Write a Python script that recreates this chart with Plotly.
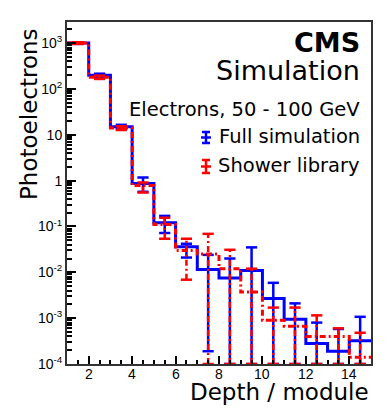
import plotly.graph_objects as go

# bin edges (depth / module) and bin contents
edges = [1, 2, 3, 4, 5, 6, 7, 8, 9, 10, 11, 12, 13, 14, 15]
centers = [1.5, 2.5, 3.5, 4.5, 5.5, 6.5, 7.5, 8.5, 9.5, 10.5, 11.5, 12.5, 13.5, 14.5]

full_val = [1000, 200, 15, 0.87, 0.12, 0.036, 0.0115, 0.0075, 0.011, 0.0027, 0.00095, 0.00028, 0.00019, 0.00032]
full_hi = [1040, 215, 16.5, 1.17, 0.17, 0.042, 0.024, 0.020, 0.035, 0.0059, 0.0021, 0.0008, 0.00058, 0.00107]
full_lo = [960, 185, 13.5, 0.57, 0.072, 0.021, 0.00019, 0, 0, 0, 0, 0, 0, 0]

shower_val = [1000, 180, 14, 0.78, 0.11, 0.03, 0.025, 0.012, 0.0037, 0.0009, 0.00067, 0.0004, 0.0004, 0.00014]
shower_hi = [1040, 195, 15.3, 0.91, 0.155, 0.054, 0.069, 0.031, 0.012, 0.0017, 0.0017, 0.00115, 0.0006, 0.00048]
shower_lo = [960, 165, 12.7, 0.55, 0.054, 0.0069, 0, 0, 0, 0, 0, 0, 0, 0]

xtick_vals = [2, 4, 6, 8, 10, 12, 14]
ytick_vals = [1e-4, 1e-3, 1e-2, 1e-1, 1, 10, 100, 1000]
ytick_text = ["10<sup>-4</sup>", "10<sup>-3</sup>", "10<sup>-2</sup>", "10<sup>-1</sup>",
              "1", "10", "10<sup>2</sup>", "10<sup>3</sup>"]

W, H = 391, 409
L, R, T, B = 67, 20, 22, 45
FLOOR = 1e-4  # bottom of the log axis, zero-content errors end here


def px(x):
    return (x - L) / (W - L - R)


def py(y):
    return (H - B - y) / (H - T - B)


def err_lines(val, lo, hi):
    xs, ys = [], []
    for c, l, h in zip(centers, lo, hi):
        xs += [c, c, None]
        ys += [max(l, FLOOR), h, None]
    return xs, ys


fig = go.Figure()

for name, val, lo, hi, color, dash in [
        ("Full simulation", full_val, full_lo, full_hi, "#0000ff", "solid"),
        ("Shower library", shower_val, shower_lo, shower_hi, "#ff0000", "6px,3px,2px,3px")]:
    fig.add_trace(go.Scatter(x=edges, y=val + [val[-1]], mode="lines", line_shape="hv",
                             line=dict(color=color, width=3, dash=dash), showlegend=False))
    ex, ey = err_lines(val, lo, hi)
    fig.add_trace(go.Scatter(x=ex, y=ey, mode="lines",
                             line=dict(color=color, width=2.5, dash=dash), showlegend=False))
    fig.add_trace(go.Scatter(x=centers + centers, y=[max(v, FLOOR) for v in lo] + hi, mode="markers",
                             marker=dict(symbol="line-ew", size=8, line=dict(color=color, width=2.5)),
                             showlegend=False))

fig.update_layout(
    width=W, height=H,
    margin=dict(l=L, r=R, t=T, b=B),
    paper_bgcolor="white", plot_bgcolor="white",
    font=dict(family="Liberation Sans, Arial", color="black", size=14),
    showlegend=False,
)
fig.update_xaxes(range=[1, 15], tickvals=xtick_vals, showticklabels=False, ticks="inside", ticklen=8,
                 tickwidth=1.5, tickcolor="black", showgrid=False, zeroline=False,
                 showline=True, linecolor="#333", linewidth=2, mirror=True,
                 minor=dict(dtick=0.5, ticks="inside", ticklen=4, tickcolor="black", showgrid=False))
minor_vals = [k * 10 ** e for e in range(-4, 4) for k in range(2, 10)]
fig.update_yaxes(type="log", range=[-4, 3.46], tickmode="array", tickvals=ytick_vals,
                 ticktext=ytick_text, ticks="inside", ticklen=9, tickwidth=1.5, tickcolor="black",
                 showgrid=False, zeroline=False, showline=True, linecolor="#333", linewidth=2,
                 mirror=True,
                 minor=dict(tickmode="array", tickvals=minor_vals, ticks="inside", ticklen=5,
                            tickcolor="black", showgrid=False),
                 tickfont=dict(size=14))

# x tick labels sit tight under the axis, as in the original
for v in xtick_vals:
    fig.add_annotation(text=str(v), x=v, y=0, xref="x", yref="paper", xanchor="center",
                       yanchor="top", yshift=0, showarrow=False,
                       font=dict(family="Liberation Sans, Arial", size=14, color="black"))

txt = "DejaVu Sans"
ann = [
    dict(text="<b>CMS</b>", x=px(362), y=py(42), size=27),
    dict(text="Simulation", x=px(362), y=py(71), size=27),
    dict(text="Electrons, 50 - 100 GeV", x=px(362), y=py(109), size=19.5),
    dict(text="Full simulation", x=px(362), y=py(136), size=19.5),
    dict(text="Shower library", x=px(362), y=py(165), size=19.5),
    dict(text="Depth / module", x=px(371), y=py(392), size=23),
]
for a in ann:
    fig.add_annotation(text=a["text"], x=a["x"], y=a["y"], xref="paper", yref="paper",
                       xanchor="right", yanchor="middle", showarrow=False,
                       font=dict(family=txt, size=a["size"], color="black"))
fig.add_annotation(text="Photoelectrons", x=px(29), y=py(26), xref="paper", yref="paper",
                   xanchor="center", yanchor="top", textangle=-90, showarrow=False,
                   font=dict(family=txt, size=23, color="black"))

# legend glyphs: error bar with caps and a centre bar
for yc, ytop, ybot, color in [(137.5, 132, 143, "#0000ff"), (166.5, 160, 173, "#ff0000")]:
    fig.add_shape(type="line", xref="paper", yref="paper", x0=px(206), x1=px(206), y0=py(ytop), y1=py(ybot),
                  line=dict(color=color, width=2.5))
    for yy, hw in [(ytop, 4), (ybot, 4), (yc, 5)]:
        fig.add_shape(type="line", xref="paper", yref="paper", x0=px(206 - hw), x1=px(206 + hw),
                      y0=py(yy), y1=py(yy), line=dict(color=color, width=2.5))

fig.write_html("out.html", config={"displayModeBar": False},
               post_script="document.body.style.margin='0';")
